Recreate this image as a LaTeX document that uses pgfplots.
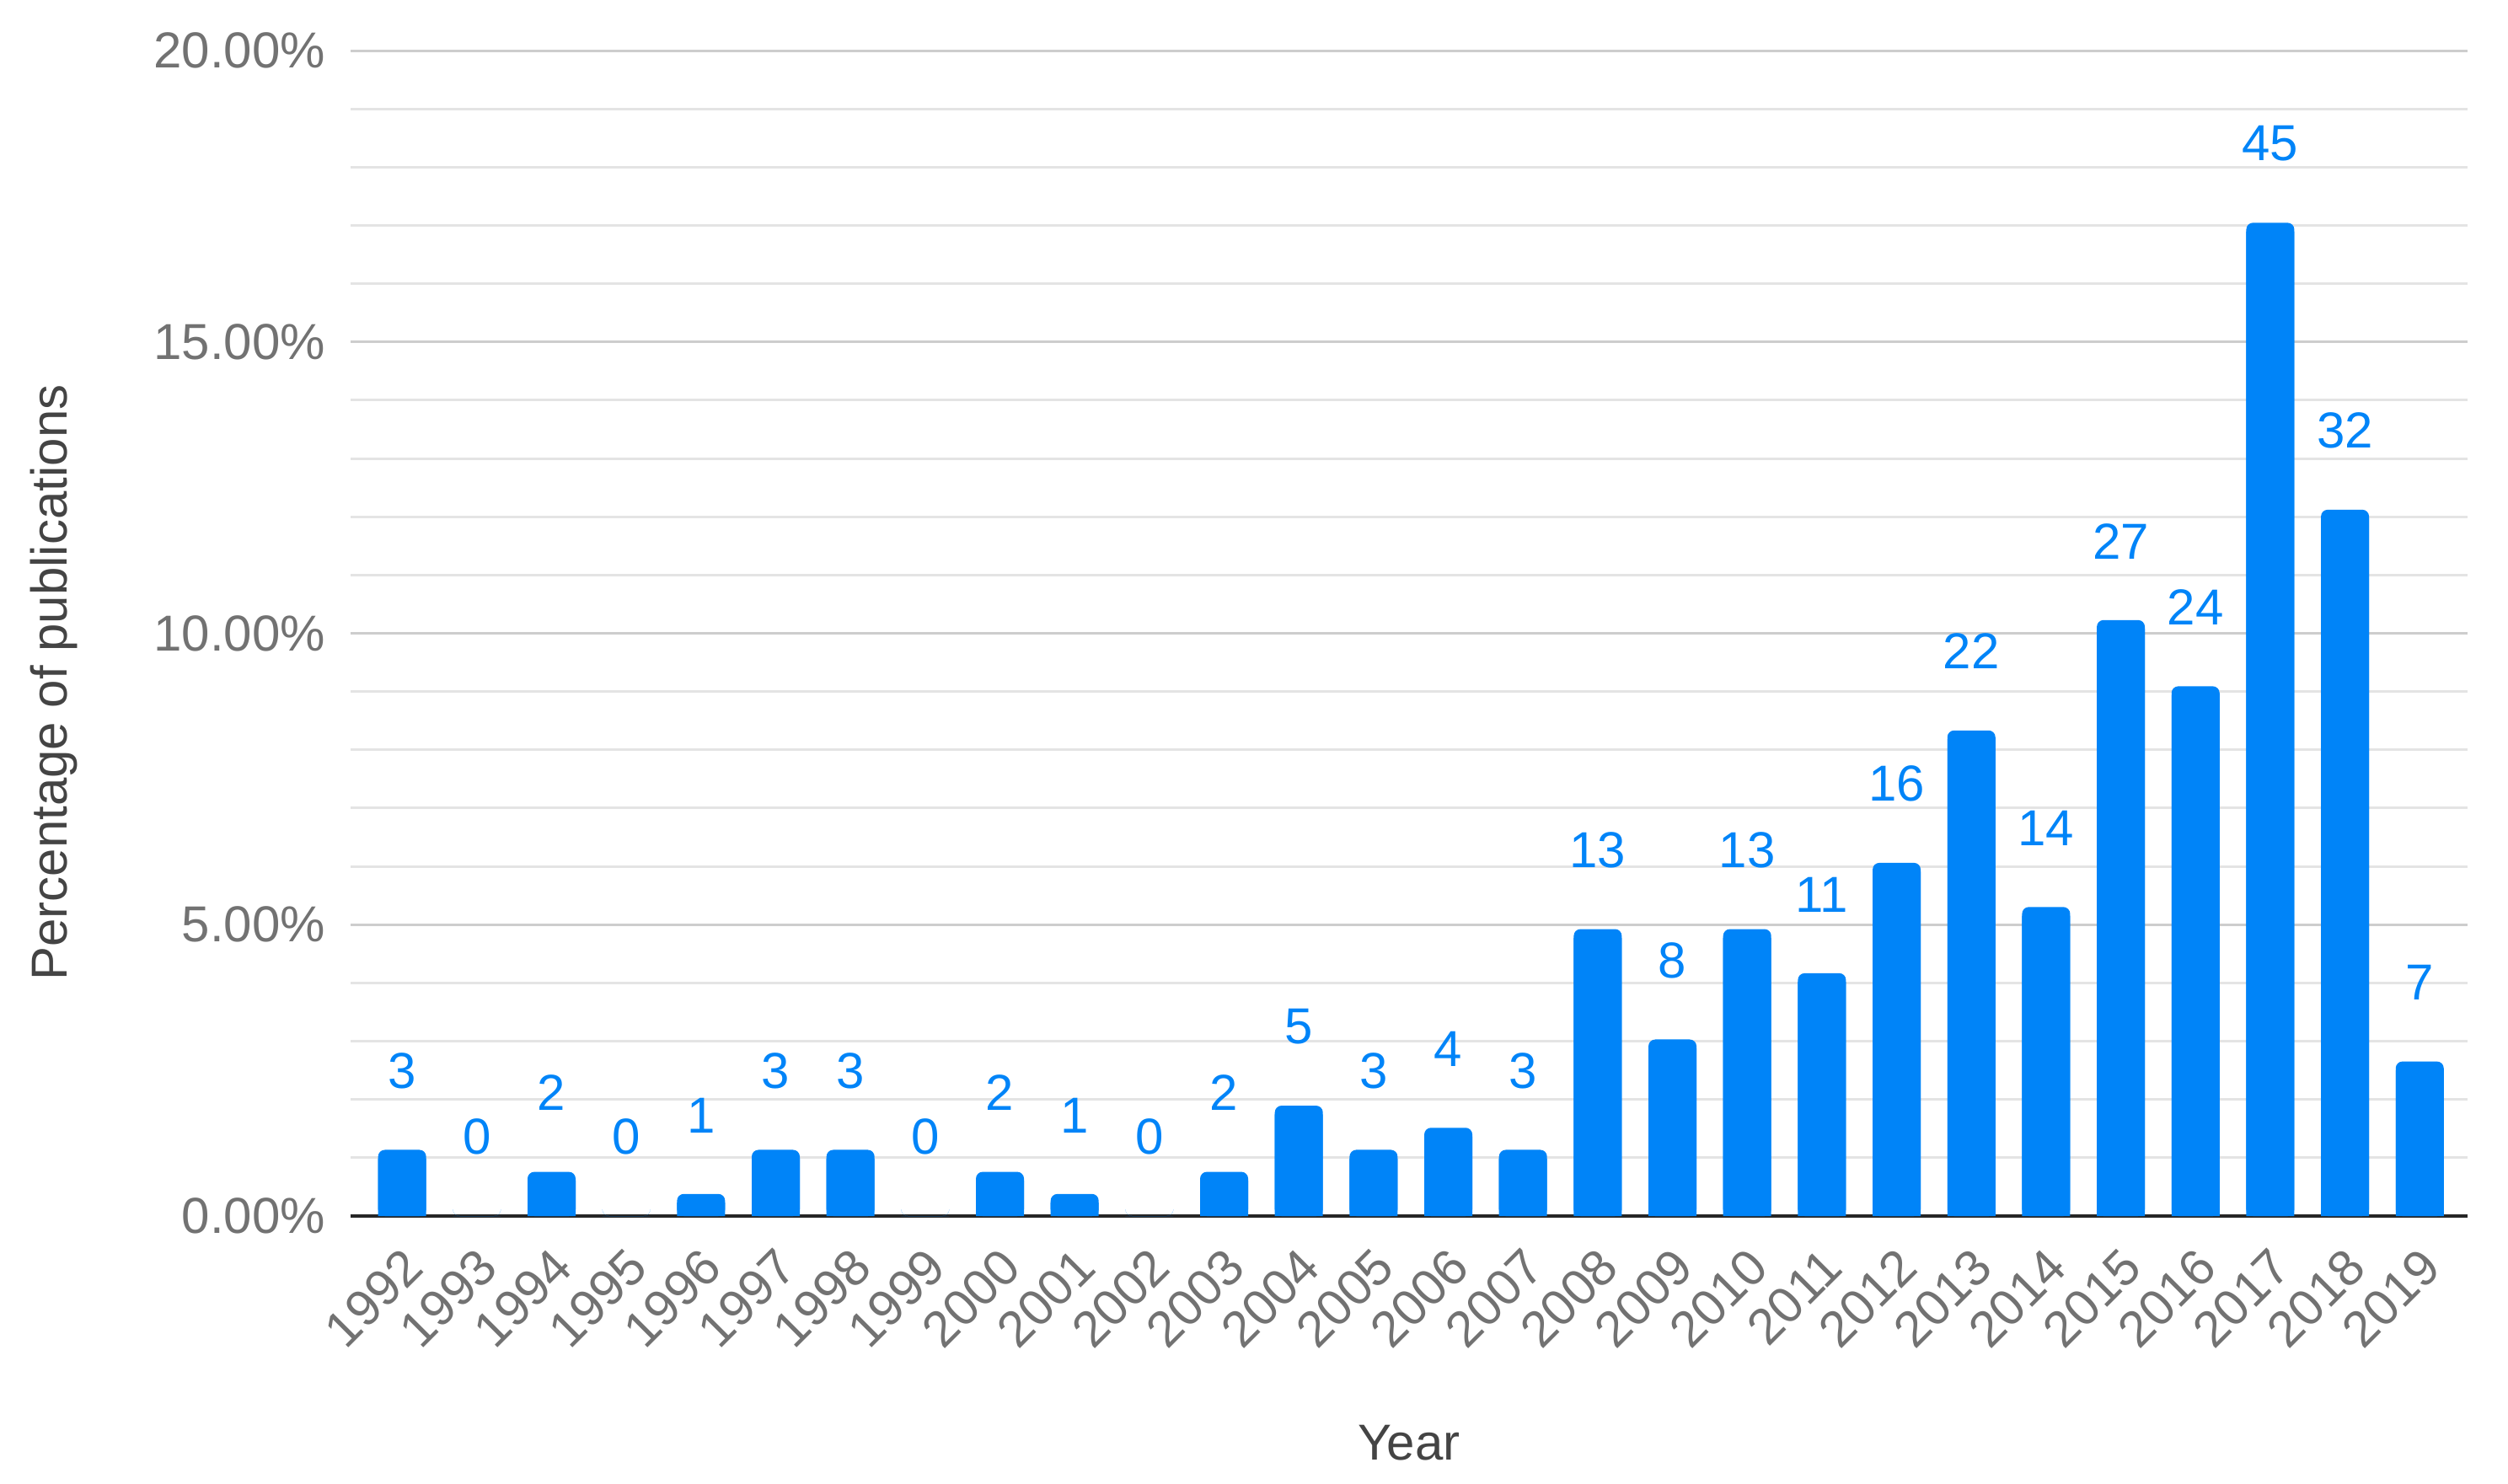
\documentclass[border=0pt]{standalone}
\usepackage{pgfplots}
\pgfplotsset{compat=1.18}
\usepackage{pgfplotstable}
\usepackage{fontspec}
\setmainfont{Liberation Sans}
\definecolor{barblue}{HTML}{0084F8}
\definecolor{ticktext}{HTML}{727272}
\definecolor{titletext}{HTML}{444444}
\definecolor{majorgrid}{HTML}{CDCDCD}
\definecolor{minorgrid}{HTML}{E4E4E4}

\pgfplotstableread{
x y n
0 1.136 3
1 0 0
2 0.758 2
3 0 0
4 0.379 1
5 1.136 3
6 1.136 3
7 0 0
8 0.758 2
9 0.379 1
10 0 0
11 0.758 2
12 1.894 5
13 1.136 3
14 1.515 4
15 1.136 3
16 4.924 13
17 3.030 8
18 4.924 13
19 4.167 11
20 6.061 16
21 8.333 22
22 5.303 14
23 10.227 27
24 9.091 24
25 17.045 45
26 12.121 32
27 2.652 7
}\datatable

\begin{document}
\begin{tikzpicture}
\useasboundingbox (-104pt,-79.25pt) rectangle (640pt,360.75pt);
\begin{axis}[
  at={(0,0)}, anchor=south west,
  scale only axis, width=628pt, height=345.75pt,
  xmin=-0.69, xmax=27.64, ymin=0, ymax=20,
  font=\fontsize{15}{18}\selectfont,
  /pgf/number format/assume math mode=true,
  ybar, bar width=14.25pt,
  xtick={0,...,27},
  xticklabels={1992,1993,1994,1995,1996,1997,1998,1999,2000,2001,2002,2003,2004,2005,2006,2007,2008,2009,2010,2011,2012,2013,2014,2015,2016,2017,2018,2019},
  xticklabel style={yshift=-8.5pt, xshift=-0.5pt, rotate=45, anchor=north east, text=ticktext, inner sep=0pt},
  ytick={0,5,10,15,20},
  minor ytick={1,2,3,4,6,7,8,9,11,12,13,14,16,17,18,19},
  yticklabel={\pgfmathprintnumber[fixed,fixed zerofill,precision=2]{\tick}\%},
  yticklabel style={text=ticktext, xshift=-4pt},
  major tick length=0pt, minor tick length=0pt,
  ymajorgrids, yminorgrids,
  major grid style={draw=majorgrid, line width=0.75pt},
  minor grid style={draw=minorgrid, line width=0.75pt},
  axis x line*=bottom, axis y line*=left,
  x axis line style={draw=black!85, line width=1.1pt, -},
  y axis line style={draw=none},
  xlabel={Year},
  xlabel style={at={(axis description cs:0.5,0)}, anchor=base, yshift=-72.25pt, text=titletext},
  ylabel={Percentage of publications},
  ylabel style={at={(axis description cs:0,0.4577)}, anchor=base, yshift=84pt, text=titletext},
  clip=false,
]
\addplot[fill=barblue, draw=none, bar shift=0pt, rounded corners=2pt,
  point meta=explicit symbolic,
  nodes near coords={\pgfplotspointmeta},
  every node near coord/.append style={text=barblue, anchor=south, inner sep=0pt, yshift=18pt}]
  table[x=x, y=y, meta=n]{\datatable};
\addplot[fill=barblue, draw=none, bar shift=0pt]
  table[x=x, y expr={max(\thisrow{y}-0.15,0)}]{\datatable};
\end{axis}
\end{tikzpicture}
\end{document}
